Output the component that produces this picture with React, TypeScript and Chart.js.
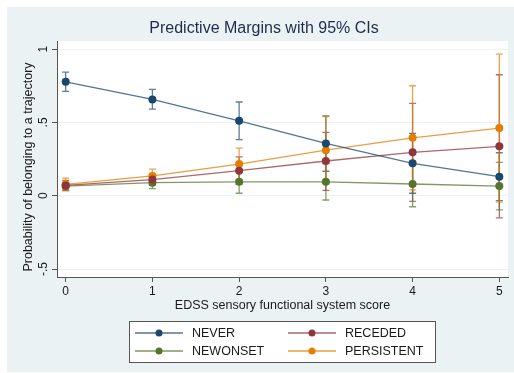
import React, { useEffect, useRef } from "react";
import { Chart, registerables } from "chart.js";
Chart.register(...registerables);

const scores = [0, 1, 2, 3, 4, 5];

const neverMargin = [0.777, 0.657, 0.511, 0.357, 0.221, 0.13];
const neverLow = [0.711, 0.59, 0.383, 0.167, 0.017, -0.033];
const neverHigh = [0.843, 0.725, 0.639, 0.545, 0.425, 0.293];

const recededMargin = [0.07, 0.11, 0.171, 0.237, 0.296, 0.337];
const recededLow = [0.035, 0.075, 0.077, 0.037, -0.038, -0.151];
const recededHigh = [0.105, 0.145, 0.265, 0.432, 0.63, 0.825];

const newonsetMargin = [0.065, 0.089, 0.095, 0.095, 0.08, 0.066];
const newonsetLow = [0.04, 0.048, 0.017, -0.029, -0.075, -0.096];
const newonsetHigh = [0.09, 0.13, 0.173, 0.219, 0.235, 0.228];

const persistentMargin = [0.078, 0.135, 0.216, 0.311, 0.395, 0.461];
const persistentLow = [0.035, 0.09, 0.108, 0.083, 0.04, -0.044];
const persistentHigh = [0.12, 0.182, 0.325, 0.539, 0.75, 0.966];

const yTicks = [-0.5, 0, 0.5, 1];
const yTickLabels = ["-.5", "0", ".5", "1"];

const titleText = "Predictive Margins with 95% CIs";
const xTitle = "EDSS sensory functional system score";
const yTitle = "Probability of belonging to a trajectory";

const FONT = '"Liberation Sans", Arial, Helvetica, sans-serif';

const series = [
  { label: "NEVER", color: "26,71,111", m: neverMargin, lo: neverLow, hi: neverHigh },
  { label: "RECEDED", color: "144,53,59", m: recededMargin, lo: recededLow, hi: recededHigh },
  { label: "NEWONSET", color: "85,117,47", m: newonsetMargin, lo: newonsetLow, hi: newonsetHigh },
  { label: "PERSISTENT", color: "227,126,0", m: persistentMargin, lo: persistentLow, hi: persistentHigh },
];

const bgPlugin = {
  id: "bgPlugin",
  beforeDraw(chart: any) {
    const { ctx, chartArea } = chart;
    ctx.save();
    ctx.fillStyle = "#ffffff";
    ctx.fillRect(0, 0, chart.width, chart.height);
    ctx.fillStyle = "#EAF2F3";
    ctx.fillRect(7, 7, chart.width - 7, chart.height - 8);
    ctx.fillStyle = "#ffffff";
    ctx.fillRect(chartArea.left, chartArea.top, chartArea.right - chartArea.left, chartArea.bottom - chartArea.top);
    ctx.restore();
  },
};

const errPlugin = {
  id: "errPlugin",
  beforeDatasetsDraw(chart: any) {
    const { ctx } = chart;
    const xs = chart.scales.x;
    const ys = chart.scales.y;
    ctx.save();
    series.forEach((s) => {
      ctx.strokeStyle = `rgba(${s.color},0.7)`;
      ctx.lineWidth = 1.3;
      scores.forEach((sc, i) => {
        const px = xs.getPixelForValue(sc);
        const yl = ys.getPixelForValue(s.lo[i]);
        const yh = ys.getPixelForValue(s.hi[i]);
        ctx.beginPath();
        ctx.moveTo(px, yl);
        ctx.lineTo(px, yh);
        ctx.moveTo(px - 3.5, yl);
        ctx.lineTo(px + 3.5, yl);
        ctx.moveTo(px - 3.5, yh);
        ctx.lineTo(px + 3.5, yh);
        ctx.stroke();
      });
    });
    ctx.restore();
  },
};

const textPlugin = {
  id: "textPlugin",
  afterDraw(chart: any) {
    const { ctx, chartArea } = chart;
    const ys = chart.scales.y;
    ctx.save();
    // title
    ctx.fillStyle = "#1e2b4b";
    ctx.font = `16px ${FONT}`;
    ctx.textAlign = "center";
    ctx.textBaseline = "middle";
    ctx.fillText(titleText, 264, 29);
    // x title
    ctx.fillStyle = "#1a1a1a";
    ctx.font = `12.5px ${FONT}`;
    ctx.fillText(xTitle, (chartArea.left + chartArea.right) / 2, 306);
    // y title
    ctx.save();
    ctx.translate(29, 167);
    ctx.rotate(-Math.PI / 2);
    ctx.fillText(yTitle, 0, 0);
    ctx.restore();
    // y tick labels
    ctx.font = `12px ${FONT}`;
    yTicks.forEach((v, i) => {
      ctx.save();
      ctx.translate(44, ys.getPixelForValue(v));
      ctx.rotate(-Math.PI / 2);
      ctx.fillText(yTickLabels[i], 0, 0);
      ctx.restore();
    });
    // legend
    ctx.fillStyle = "#ffffff";
    ctx.fillRect(129.5, 321.5, 306, 41);
    ctx.strokeStyle = "#555";
    ctx.lineWidth = 1;
    ctx.strokeRect(129.5, 321.5, 306, 41);
    ctx.font = `12.5px ${FONT}`;
    ctx.textAlign = "left";
    const cols = [135, 288];
    const rows = [333, 351];
    series.forEach((s, i) => {
      const cx = cols[i % 2];
      const cy = rows[Math.floor(i / 2)];
      ctx.strokeStyle = `rgba(${s.color},0.75)`;
      ctx.lineWidth = 1.3;
      ctx.beginPath();
      ctx.moveTo(cx, cy);
      ctx.lineTo(cx + 48, cy);
      ctx.stroke();
      ctx.fillStyle = `rgb(${s.color})`;
      ctx.beginPath();
      ctx.arc(cx + 24, cy, 3.5, 0, Math.PI * 2);
      ctx.fill();
      ctx.fillStyle = "#1a1a1a";
      ctx.fillText(s.label, cx + 57, cy + 0.5);
    });
    ctx.restore();
  },
};

export default function App() {
  const ref = useRef<HTMLCanvasElement | null>(null);
  useEffect(() => {
    document.body.style.margin = "0";
    const canvas = ref.current;
    if (!canvas) return;
    const chart = new Chart(canvas, {
      type: "line",
      data: {
        datasets: series.map((s) => ({
          label: s.label,
          data: scores.map((x, i) => ({ x, y: s.m[i] })),
          borderColor: `rgba(${s.color},0.75)`,
          borderWidth: 1.3,
          pointRadius: 4,
          pointBackgroundColor: `rgb(${s.color})`,
          pointBorderWidth: 0,
          tension: 0,
        })),
      },
      options: {
        responsive: false,
        animation: false,
        devicePixelRatio: 1,
        layout: { padding: { left: 0, right: 6, top: 41, bottom: 0 } },
        plugins: { legend: { display: false }, title: { display: false }, tooltip: { enabled: false } },
        scales: {
          x: {
            type: "linear",
            min: -0.1,
            max: 5.1,
            afterFit: (s: any) => { s.height = 96; },
            afterBuildTicks: (s: any) => { s.ticks = scores.map((v) => ({ value: v })); },
            grid: { drawOnChartArea: false, drawTicks: true, tickLength: 5, tickColor: "#555" },
            border: { color: "#555", width: 1 },
            ticks: { color: "#1a1a1a", font: { size: 12, family: FONT }, padding: 2, maxRotation: 0, callback: (v: any) => String(v) },
          },
          y: {
            type: "linear",
            min: -0.554,
            max: 1.055,
            afterFit: (s: any) => { s.width = 57; },
            afterBuildTicks: (s: any) => { s.ticks = yTicks.map((v) => ({ value: v })); },
            grid: { color: "#EAF2F3", drawTicks: true, tickLength: 5, tickColor: "#555" },
            border: { color: "#555", width: 1 },
            ticks: { color: "rgba(0,0,0,0)", font: { size: 12, family: FONT } },
          },
        },
      },
      plugins: [bgPlugin, errPlugin, textPlugin],
    } as any);
    return () => chart.destroy();
  }, []);
  return <canvas ref={ref} width={514} height={373} style={{ display: "block" }} />;
}
